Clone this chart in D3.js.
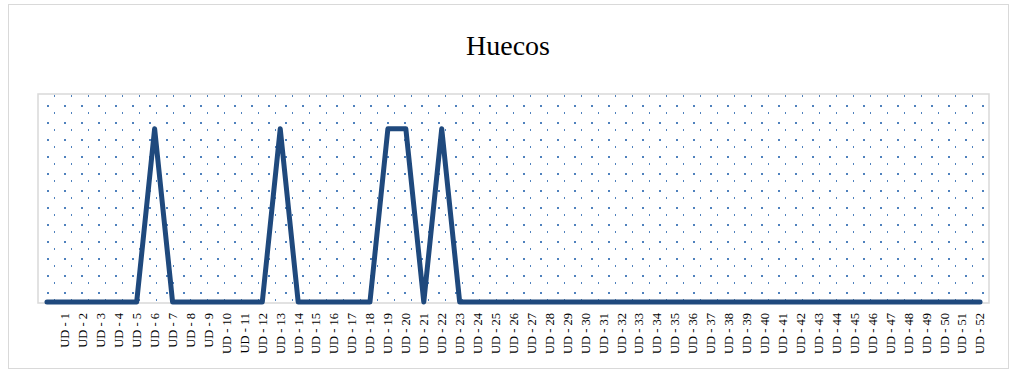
<!DOCTYPE html>
<html>
<head>
<meta charset="utf-8">
<script src="https://cdn.jsdelivr.net/npm/d3@7"></script>
<style>
  body { margin: 0; background: #fff; }
  svg { display: block; }
</style>
</head>
<body>
<script>
(function () {
  'use strict'

  // leading blank category, as in the source sheet
  var categories = ['']
  for (var i = 1; i <= 52; i++) categories.push('UD - ' + i)
  // 1 = hueco present, 0 = none
  var values = [0,
    0, 0, 0, 0, 0, 1, 0, 0, 0, 0, 0, 0, 1, 0, 0, 0, 0, 0, 1, 1,
    0, 1, 0, 0, 0, 0, 0, 0, 0, 0, 0, 0, 0, 0, 0, 0, 0, 0, 0, 0,
    0, 0, 0, 0, 0, 0, 0, 0, 0, 0, 0, 0]
  var yDomain = [0, 1.2]

  var dim = { w: 1015, h: 371 }
  var plot = { left: 38, top: 94, right: 989, bottom: 302 }

  var svg = d3.select('body').append('svg')
    .attr('width', dim.w)
    .attr('height', dim.h)

  var defs = svg.append('defs')
  var pat = defs.append('pattern')
    .attr('id', 'dots')
    .attr('patternUnits', 'userSpaceOnUse')
    .attr('x', plot.left)
    .attr('y', plot.top)
    .attr('width', 17)
    .attr('height', 17)
  pat.append('rect').attr('x', 16).attr('y', 1).attr('width', 2).attr('height', 2).attr('fill', '#4f81bd')
  pat.append('rect').attr('x', 9).attr('y', 11).attr('width', 2).attr('height', 2).attr('fill', '#4f81bd')

  // outer chart border
  svg.append('rect')
    .attr('x', 8.5).attr('y', 4.5)
    .attr('width', 1000).attr('height', 364)
    .attr('fill', '#fff')
    .attr('stroke', '#d9d9d9')

  svg.append('text')
    .attr('x', 508).attr('y', 55)
    .attr('text-anchor', 'middle')
    .attr('font-family', 'Liberation Serif, Times New Roman, serif')
    .attr('font-size', 28)
    .attr('fill', '#000')
    .text('Huecos')

  var x = d3.scaleBand().domain(categories)
    .range([plot.left, plot.right])
  var y = d3.scaleLinear().domain(yDomain)
    .range([plot.bottom, plot.top])

  svg.append('rect')
    .attr('x', plot.left).attr('y', plot.top)
    .attr('width', plot.right - plot.left)
    .attr('height', plot.bottom - plot.top + 1)
    .attr('fill', 'url(#dots)')
    .attr('stroke', '#d9d9d9')
    .attr('stroke-width', 1.5)

  var line = d3.line()
    .x(function (d, i) { return x(categories[i]) + x.bandwidth() / 2 })
    .y(function (d) { return y(d) })

  svg.append('path')
    .datum(values)
    .attr('d', line)
    .attr('fill', 'none')
    .attr('stroke', '#1f497d')
    .attr('stroke-width', 5)
    .attr('stroke-linejoin', 'round')
    .attr('stroke-linecap', 'round')

  var axis = d3.axisBottom(x).tickSize(0).tickPadding(0)
  var g = svg.append('g')
    .attr('transform', 'translate(0,' + (plot.bottom + 11) + ')')
    .call(axis)
  g.select('.domain').remove()
  g.selectAll('text')
    .attr('font-family', 'Liberation Serif, Times New Roman, serif')
    .attr('font-size', 12.5)
    .attr('fill', '#000')
    .attr('text-anchor', 'end')
    .attr('dy', '0.35em')
    .attr('x', 0).attr('y', 0)
    .attr('transform', 'rotate(-90)')
}())
</script>
</body>
</html>
